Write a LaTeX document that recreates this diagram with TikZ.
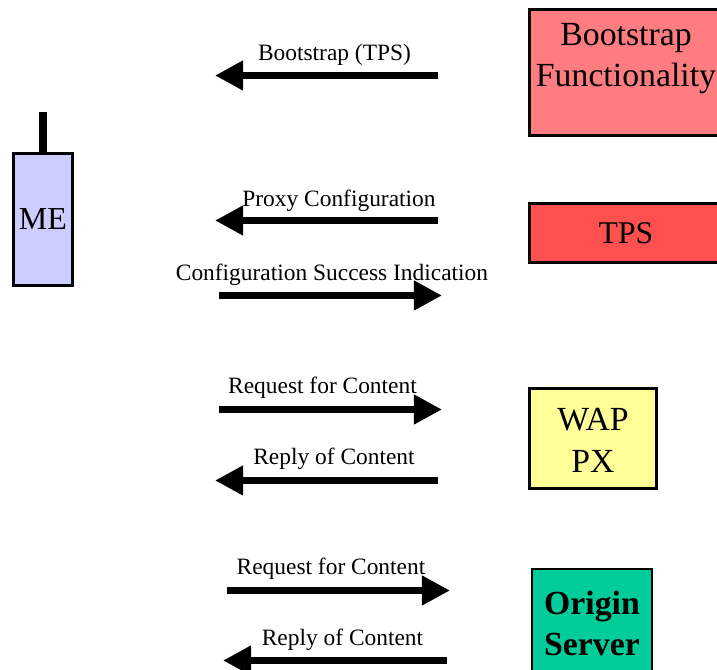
\documentclass[tikz,border=0pt]{standalone}
\usepackage{fontspec}
\setmainfont{Liberation Serif}
\usetikzlibrary{arrows.meta}
\definecolor{mecolor}{HTML}{CCCCFF}
\definecolor{bootcolor}{HTML}{FF7C80}
\definecolor{tpscolor}{HTML}{FF5050}
\definecolor{wapcolor}{HTML}{FFFF99}
\definecolor{origincolor}{HTML}{00CC99}
\tikzset{x=0.01cm, y=-0.01cm,
entity/.style={ % Sets the properties for each box
draw,
line width=0.03cm,
inner sep=0pt,
align=center,
font=\fontsize{9.6}{11.8}\selectfont},
msg/.style={ % Text over an arrow
anchor=base,
inner sep=0pt,
font=\fontsize{6.66}{8}\selectfont},
end/.style={inner sep=0pt, minimum size=0pt},
every edge/.style={ % Sets the properties for each arrow
draw,
line width=0.07cm,
-{Triangle[length=0.28cm,width=0.28cm]}}}

\begin{document}
\begin{tikzpicture}
	\path[use as bounding box, clip] (0,0) rectangle (717,670);
	\node[entity, fill=mecolor, font=\fontsize{9.1}{11}\selectfont, minimum width=0.58cm, minimum height=1.31cm] (me) at (43,219.5) {ME};
	\node[end] (aerial) at (43,112) {};
	\draw[line width=0.08cm] (me.north) -- (aerial.center);
	\node[entity, fill=bootcolor, minimum width=1.93cm, minimum height=1.26cm] (boot) at (626,72.5) {Bootstrap\\Functionality\\[-0.06cm]\mbox{}};
	\node[entity, fill=tpscolor, font=\fontsize{9}{11}\selectfont, minimum width=1.93cm, minimum height=0.58cm] (tps) at (626,233) {TPS};
	\node[entity, fill=wapcolor, minimum width=1.26cm, minimum height=0.99cm] (wap) at (593,438.5) {\rule{0pt}{0.26cm}WAP\\PX};
	\node[entity, fill=origincolor, line width=0.02cm, font=\fontsize{9.6}{11.9}\selectfont\bfseries, minimum width=1.19cm, minimum height=1.09cm] (origin) at (592,623.5) {Origin\\Server};
	\coordinate (a1) at (438,75.5);
	\coordinate (b1) at (215,75.5);
	\coordinate (a2) at (438,220.5);
	\coordinate (b2) at (215,220.5);
	\coordinate (a3) at (219,295.5);
	\coordinate (b3) at (442,295.5);
	\coordinate (a4) at (219,409.5);
	\coordinate (b4) at (442,409.5);
	\coordinate (a5) at (438,480.5);
	\coordinate (b5) at (215,480.5);
	\coordinate (a6) at (227,590.5);
	\coordinate (b6) at (450,590.5);
	\coordinate (a7) at (447,660.5);
	\coordinate (b7) at (223,660.5);
	\draw (a1) edge (b1);
	\draw (a2) edge (b2);
	\draw (a3) edge (b3);
	\draw (a4) edge (b4);
	\draw (a5) edge (b5);
	\draw (a6) edge (b6);
	\draw (a7) edge (b7);
	\node[msg] (m1) at (334.5,61) {Bootstrap (TPS)};
	\node[msg] (m2) at (339,207) {Proxy Configuration};
	\node[msg] (m3) at (332,281) {Configuration Success Indication};
	\node[msg] (m4) at (322.5,394) {Request for Content};
	\node[msg] (m5) at (334,465) {Reply of Content};
	\node[msg] (m6) at (331,575) {Request for Content};
	\node[msg] (m7) at (342.5,646) {Reply of Content};
\end{tikzpicture}
\end{document}
